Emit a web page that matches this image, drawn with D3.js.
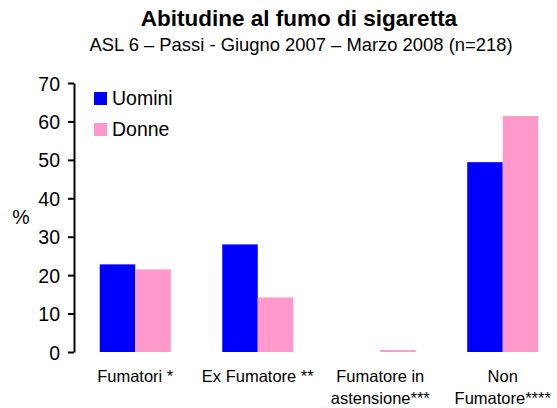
<!DOCTYPE html>
<html>
<head>
<meta charset="utf-8">
<script src="https://cdn.jsdelivr.net/npm/d3@7"></script>
<style>
  body { margin: 0; background: #fff; }
  svg { font-family: "Liberation Sans", Arial, sans-serif; }
  .axis path, .axis line { stroke: #000; stroke-width: 2; }
  .axis text { font-size: 19.5px; fill: #000; }
</style>
</head>
<body>
<svg id="chart"></svg>
<script>
var categories = [['Fumatori *'], ['Ex Fumatore **'], ['Fumatore in', 'astensione***'], ['Non', 'Fumatore****']];
var seriesNames = ['Uomini', 'Donne'];
var uomini = [22.8, 28.0, 0, 49.4];
var donne = [21.5, 14.2, 0.5, 61.4];
var yTicks = [0, 10, 20, 30, 40, 50, 60, 70];
var colors = ['#0000ff', '#ff99cc'];

var render = () => {
  var W = 557, H = 408;
  var left = 74, top = 83, bottom = 352;
  var bandW = 122.5;

  var svg = d3.select('#chart').attr('width', W).attr('height', H);

  var x = d3.scaleBand()
    .domain(d3.range(categories.length))
    .range([left, left + bandW * categories.length])
    .paddingInner(0.42)
    .paddingOuter(0.21);

  var xs = d3.scaleBand()
    .domain(seriesNames)
    .range([0, x.bandwidth()]);

  var y = d3.scaleLinear()
    .domain([0, 70])
    .range([bottom, top]);

  /**
   * title
   */
  svg.append('text')
    .attr('x', 299).attr('y', 26)
    .attr('text-anchor', 'middle')
    .style('font-weight', 'bold').style('font-size', '22.5px')
    .text('Abitudine al fumo di sigaretta');

  svg.append('text')
    .attr('x', 301).attr('y', 51)
    .attr('text-anchor', 'middle')
    .style('font-size', '18.4px')
    .text('ASL 6 \u2013 Passi - Giugno 2007 \u2013 Marzo 2008 (n=218)');

  /**
   * bars
   */
  var series = [uomini, donne];
  series.forEach((vals, si) => {
    svg.append('g').selectAll('rect')
      .data(vals)
      .enter().append('rect')
        .attr('x', (d, i) => x(i) + xs(seriesNames[si]))
        .attr('y', d => y(d))
        .attr('width', xs.bandwidth())
        .attr('height', d => y(0) - y(d))
        .attr('fill', colors[si]);
  });

  /**
   * axis
   */
  svg.append('g')
    .attr('class', 'axis')
    .attr('transform', `translate(${ left }, 0)`)
    .call(d3.axisLeft(y).tickValues(yTicks).tickSize(6).tickSizeOuter(0).tickPadding(8))
    .call(g => g.selectAll('.tick text').attr('dy', '0.36em'));

  svg.append('text')
    .attr('x', 21).attr('y', 224)
    .attr('text-anchor', 'middle')
    .style('font-size', '19.5px')
    .text('%');

  /**
   * category labels
   */
  var lab = svg.append('g').selectAll('text')
    .data(categories)
    .enter().append('text')
      .attr('x', (d, i) => x(i) + x.bandwidth() / 2)
      .attr('y', 382)
      .attr('text-anchor', 'middle')
      .style('font-size', '16.5px');
  lab.selectAll('tspan')
    .data(d => d)
    .enter().append('tspan')
      .attr('x', function() { return this.parentNode.getAttribute('x'); })
      .attr('dy', (d, i) => i ? 21.5 : 0)
      .text(d => d);

  /**
   * legend
   */
  var leg = svg.append('g').selectAll('g')
    .data(seriesNames)
    .enter().append('g')
      .attr('transform', (d, i) => `translate(94, ${ 92 + i * 31 })`);
  leg.append('rect')
    .attr('width', 13).attr('height', 13)
    .attr('fill', (d, i) => colors[i]);
  leg.append('text')
    .attr('x', 18).attr('y', 13)
    .style('font-size', '19.5px')
    .text(d => d);
};

render();
</script>
</body>
</html>
